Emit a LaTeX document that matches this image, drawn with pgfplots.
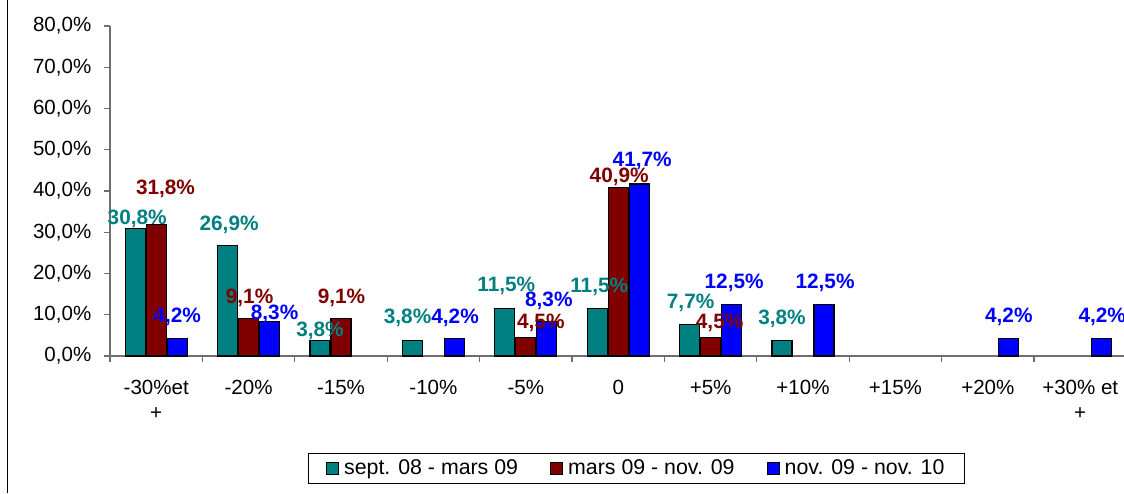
\documentclass[border=0pt]{standalone}
\usepackage{fontspec}
\setmainfont{Liberation Sans}
\usepackage{pgfplots}
\pgfplotsset{compat=1.18}
\usepackage{pgfplotstable}
\definecolor{cteal}{HTML}{008080}
\definecolor{cred}{HTML}{800000}
\definecolor{cblue}{HTML}{0000FF}
\definecolor{axgray}{HTML}{6E6E6E}
\newcommand\tickfont{\fontsize{15.4pt}{18.75pt}\selectfont}
\newcommand\labelfont{\fontsize{15.6pt}{18pt}\selectfont\bfseries}
\newcommand\legfont{\fontsize{16pt}{19pt}\selectfont}

% columns: category index, value (%), label offsets (px): dx right, dy = baseline above bar top
\pgfplotstableread{
x y dx dy
0 30.8 2 4
1 26.9 1.5 15
2 3.8 0 3.6
3 3.8 -4.8 17
4 11.5 1.5 17
5 11.5 2 16
6 7.7 1 16
7 3.8 0 16
}\tabA
\pgfplotstableread{
x y dx dy
0 31.8 9.3 30
1 9.1 1 14.5
2 9.1 0.5 15
4 4.5 15 9
5 40.9 1 4.6
6 4.5 9 9
}\tabB
\pgfplotstableread{
x y dx dy
0 4.2 0 15.7
1 8.3 5 2.5
3 4.2 0.7 15.4
4 8.3 2 15
5 41.7 3 17.3
6 12.5 2.5 16
7 12.5 1 16
9 4.2 0 16
10 4.2 1 16
}\tabC

\begin{document}
\begin{tikzpicture}
\path[use as bounding box] (0,0) rectangle (843pt,369.75pt);
\draw[line width=1.2pt] (5.5pt,0) -- (5.5pt,369.75pt);
\begin{axis}[
  at={(82.5pt,102.75pt)}, anchor=south west,
  scale only axis, width=760.5pt, height=247.5pt,
  xmin=-0.5, xmax=10.474, ymin=0, ymax=80,
  axis x line=bottom, axis y line=left,
  axis line style={-, draw=axgray, line width=0.8pt},
  ybar=0.75pt, bar width=15pt,
  ytick={0,10,...,80},
  yticklabel={\pgfmathprintnumber[fixed,fixed zerofill,precision=1,use comma,assume math mode=true]{\tick}\%},
  xtick={0,...,10},
  xticklabels={{-30\%et\\+},-20\%,-15\%,-10\%,-5\%,0,+5\%,+10\%,+15\%,+20\%,{+30\% et\\+}},
  minor xtick={-0.5,0.5,...,9.5},
  tick align=outside,
  major tick length=4.5pt, minor tick length=4.5pt,
  tick style={draw=axgray, line width=0.8pt},
  major x tick style={draw=none},
  xticklabel style={font=\tickfont, align=center, yshift=-10pt},
  yticklabel style={font=\tickfont, xshift=-6pt},
  nodes near coords={\pgfmathprintnumber[fixed,fixed zerofill,precision=1,use comma,assume math mode=true]{\pgfplotspointmeta}\%},
  visualization depends on={\thisrow{dx} \as \offx},
  visualization depends on={\thisrow{dy} \as \offy},
  every node near coord/.append style={font=\labelfont, anchor=base, inner sep=0pt, xshift=\offx*0.75pt, yshift=\offy*0.75pt},
  legend columns=3,
  legend image code/.code={\draw[#1, draw=black, line width=0.6pt] (0pt,-4.5pt) rectangle (9pt,4.5pt);},
  legend style={at={(0.5193,-0.3409)}, anchor=center, draw=black, line width=0.8pt, font=\legfont,
    inner xsep=13pt, inner ysep=3pt,
    /tikz/every odd column/.append style={column sep=2pt},
    /tikz/every even column/.append style={column sep=22pt}},
]
\addplot[fill=cteal, draw=black, line width=0.8pt, every node near coord/.append style={text=cteal}] table[x=x,y=y]{\tabA};
\addplot[fill=cred, draw=black, line width=0.8pt, every node near coord/.append style={text=cred}] table[x=x,y=y]{\tabB};
\addplot[fill=cblue, draw=black, line width=0.8pt, every node near coord/.append style={text=cblue}] table[x=x,y=y]{\tabC};
\legend{sept. 08 - mars 09, mars 09 - nov. 09, nov. 09 - nov. 10}
\end{axis}
\end{tikzpicture}
\end{document}
